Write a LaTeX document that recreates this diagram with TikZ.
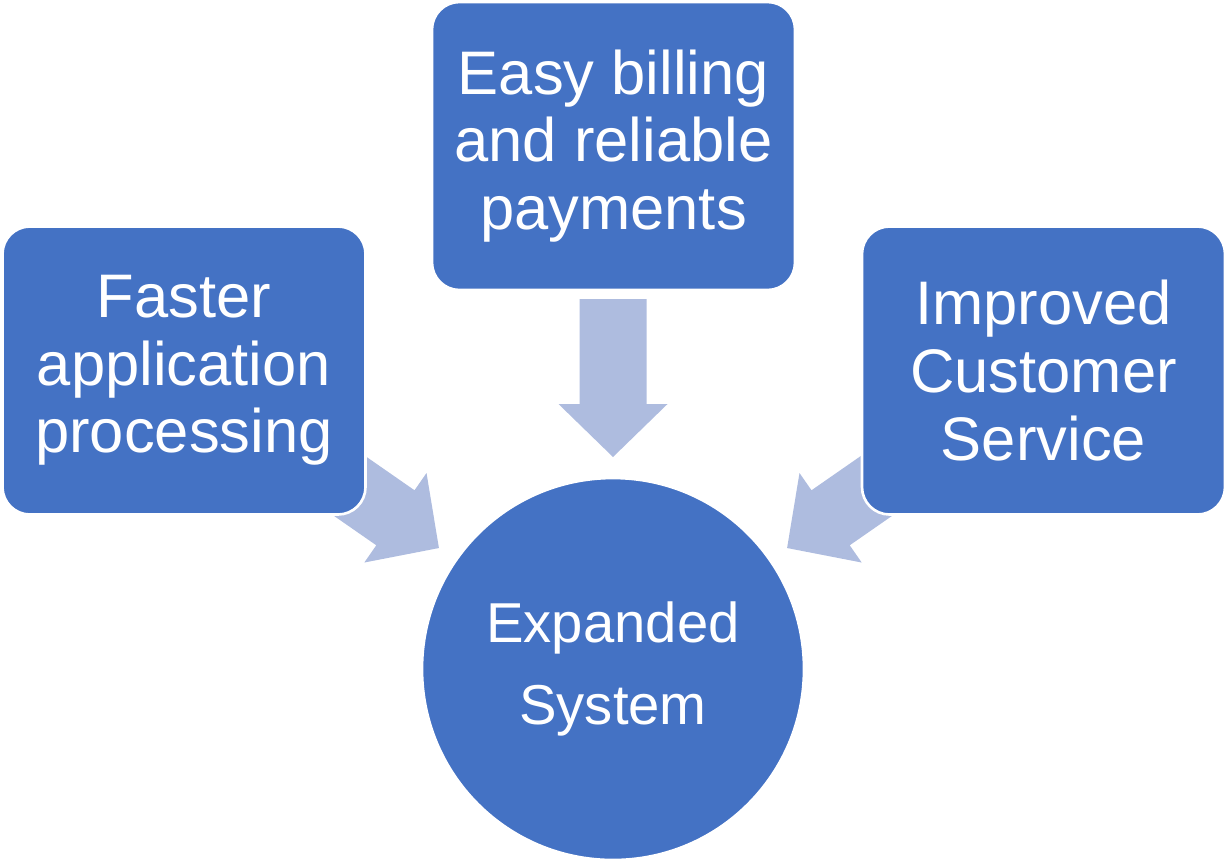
\documentclass[tikz,border=0pt]{standalone}
\usepackage{fontspec}
\setmainfont{Liberation Sans}
\usepackage{xcolor}
\usetikzlibrary{positioning,calc,backgrounds}

\definecolor{boxblue}{HTML}{4472C4}
\definecolor{arrowblue}{HTML}{AEBCDF}

% block arrow: #1 = tip coordinate, #2 = direction angle
\newcommand{\blockarrow}[2]{%
  \fill[arrowblue, shift={(#1)}, rotate=#2]
    (0,0) -- (-1.06,1.09) -- (-1.06,0.67) -- (-3.16,0.67)
    -- (-3.16,-0.67) -- (-1.06,-0.67) -- (-1.06,-1.09) -- cycle;}

\begin{document}
\begin{tikzpicture}[
    box/.style={draw=white, line width=1.5pt, fill=boxblue, rounded corners=0.55cm,
                minimum width=7.26cm, minimum height=5.76cm, inner sep=0pt,
                align=center, text=white, font=\fontsize{35}{38.5}\selectfont},
    hub/.style={circle, draw=white, line width=1.5pt, fill=boxblue, minimum size=7.64cm,
                inner sep=0pt, align=center, text=white, font=\fontsize{32}{47}\selectfont},
]
    \useasboundingbox (0,0) rectangle (24.52,-17.22);

    % Centre
    \node[hub] (sys) at (12.26,-13.38) {Expanded\\System};

    % Boxes
    \node[box] (billing) at (12.27,-2.92) {Easy billing\\and reliable\\payments};
    \node[box] (faster) at (3.68,-7.41) {Faster\\application\\processing};
    \node[box] (service) at (20.87,-7.41) {Improved\\Customer\\Service};

    % Arrow tips
    \coordinate (tipT) at ($(sys.center)+(90:4.24)$);
    \coordinate (tipL) at ($(sys.center)+(145.2:4.24)$);
    \coordinate (tipR) at ($(sys.center)+(34.8:4.24)$);

    % Arrows
    \begin{scope}[on background layer]
        \blockarrow{tipT}{-90}
        \blockarrow{tipL}{-34.8}
        \blockarrow{tipR}{-145.2}
    \end{scope}
\end{tikzpicture}
\end{document}
